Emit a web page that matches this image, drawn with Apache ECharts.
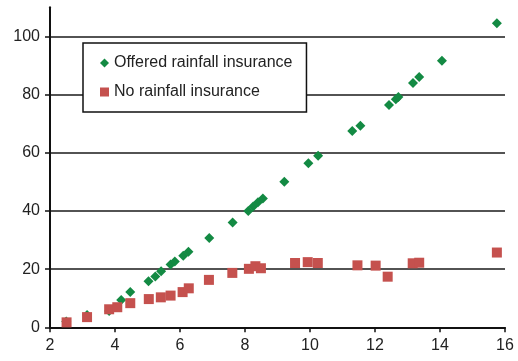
<!DOCTYPE html>
<html>
<head>
<meta charset="utf-8">
<script src="https://cdn.jsdelivr.net/npm/echarts@6/dist/echarts.min.js"></script>
<style>
  html, body { margin: 0; padding: 0; background: #fff; }
  #main { width: 518px; height: 361px; }
</style>
</head>
<body>
<div id="main"></div>
<script>
// values
var offeredX = [2.5, 3.14, 3.82, 4.19, 4.47, 5.03, 5.24, 5.42, 5.71, 5.84, 6.1, 6.26, 6.9, 7.62,
    8.1, 8.25, 8.4, 8.55, 9.21, 9.95, 10.25, 11.3, 11.55, 12.43, 12.64, 12.72, 13.17, 13.36, 14.06, 15.75];
var offeredY = [2.0, 4.2, 5.6, 9.4, 12.1, 15.8, 17.5, 19.3, 21.6, 22.6, 24.6, 26.0, 30.7, 36.0,
    40.0, 41.5, 43.0, 44.3, 50.0, 56.4, 59.0, 67.5, 69.3, 76.4, 78.4, 79.2, 84.0, 86.0, 91.6, 104.5];

var noneX = [2.51, 3.14, 3.82, 4.07, 4.47, 5.04, 5.41, 5.71, 6.08, 6.27, 6.89, 7.61,
    8.12, 8.32, 8.49, 9.54, 9.93, 10.24, 11.46, 12.02, 12.39, 13.16, 13.36, 15.75];
var noneY = [1.7, 3.5, 6.2, 6.9, 8.3, 9.7, 10.3, 10.9, 12.1, 13.4, 16.3, 18.7,
    20.1, 21.0, 20.3, 22.1, 22.4, 22.1, 21.3, 21.2, 17.4, 22.0, 22.2, 25.7];

var yTicks = [0, 20, 40, 60, 80, 100];
var seriesNames = ['Offered rainfall insurance', 'No rainfall insurance'];

function pairs(xs, ys) {
    var out = [];
    for (var i = 0; i < xs.length; i++) out.push([xs[i], ys[i]]);
    return out;
}

var font = 'Liberation Sans, Arial, Helvetica, sans-serif';
var myChart = echarts.init(document.getElementById('main'));

var option = {
    animation: false,
    backgroundColor: '#fff',
    grid: { left: 50, top: 7.3, width: 455, height: 320, containLabel: false },
    legend: {
        orient: 'vertical',
        left: 83,
        top: 43,
        padding: [12, 14, 12, 17],
        itemGap: 13,
        itemWidth: 9,
        itemHeight: 9,
        backgroundColor: '#fff',
        borderColor: '#111',
        borderWidth: 1.5,
        borderRadius: 0,
        textStyle: { fontFamily: font, fontSize: 16, color: '#222', lineHeight: 16 },
        data: seriesNames
    },
    xAxis: {
        type: 'value',
        min: 2,
        max: 16,
        interval: 2,
        axisLine: { show: true, lineStyle: { color: '#111', width: 2 } },
        axisTick: { show: true, length: 5, lineStyle: { color: '#111', width: 1.5 } },
        axisLabel: { margin: 10, fontFamily: font, fontSize: 16, color: '#222' },
        splitLine: { show: false }
    },
    yAxis: {
        type: 'value',
        min: 0,
        max: 110,
        axisLine: { show: true, lineStyle: { color: '#111', width: 2 } },
        axisTick: { show: true, length: 5, customValues: yTicks, lineStyle: { color: '#111', width: 1.5 } },
        axisLabel: { margin: 10, customValues: yTicks, fontFamily: font, fontSize: 16, color: '#222' },
        splitLine: { show: true, lineStyle: { color: '#1a1a1a', width: 1.5 } }
    },
    series: [
        {
            name: seriesNames[0],
            type: 'scatter',
            symbol: 'diamond',
            symbolSize: 10,
            itemStyle: { color: '#138a43', opacity: 1 },
            data: pairs(offeredX, offeredY),
            z: 3
        },
        {
            name: seriesNames[1],
            type: 'scatter',
            symbol: 'rect',
            symbolSize: 10,
            itemStyle: { color: '#c5514e', opacity: 1 },
            data: pairs(noneX, noneY),
            z: 4
        }
    ]
};

myChart.setOption(option);
</script>
</body>
</html>
